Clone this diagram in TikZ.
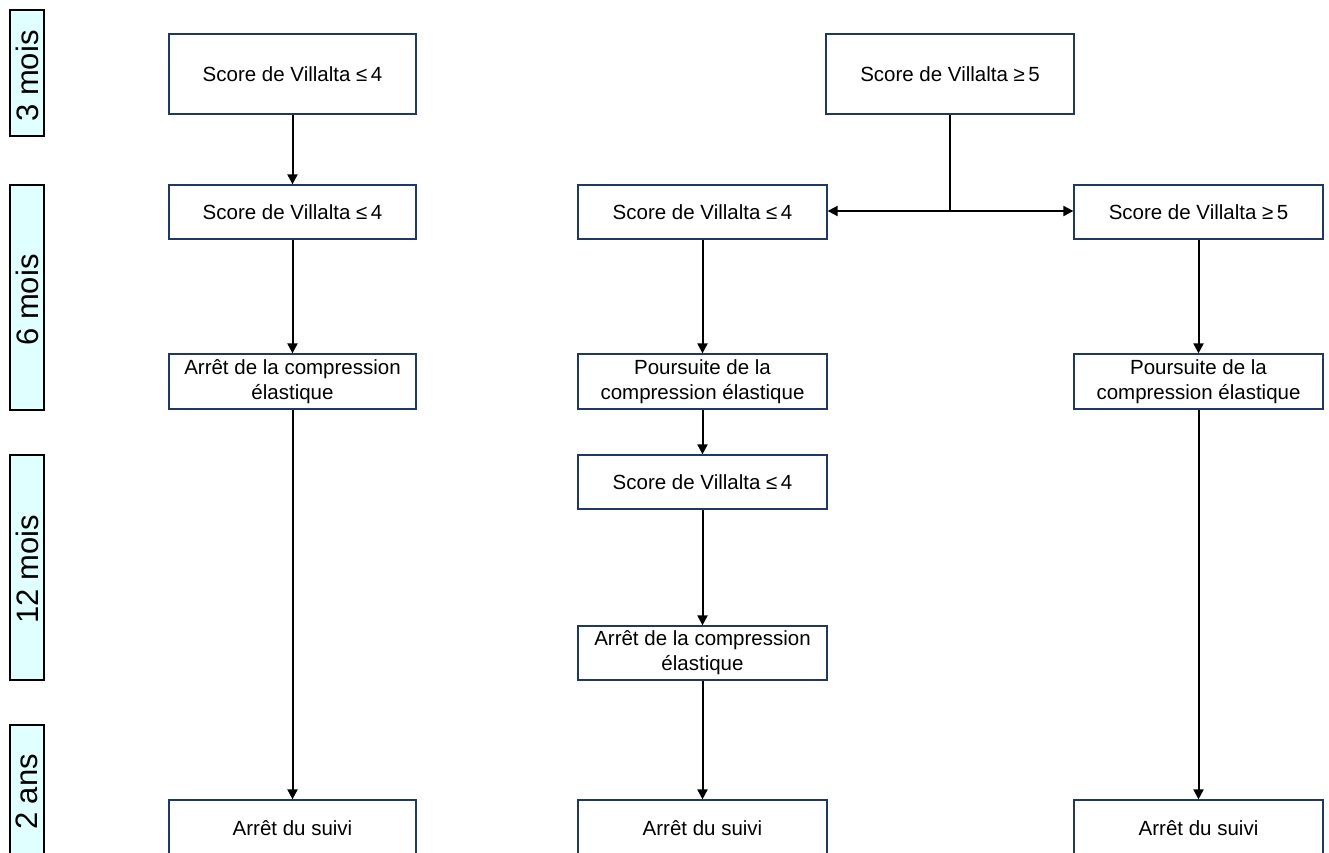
\documentclass[tikz,border=0pt]{standalone}
\usepackage{fontspec}
\setmainfont{Liberation Sans}
\usetikzlibrary{arrows.meta}
\definecolor{boxblue}{HTML}{1F3864}
\definecolor{timefill}{HTML}{E0FFFF}
\tikzset{
  flowbox/.style={draw=boxblue, line width=1.3pt, fill=white, rectangle, inner sep=2pt,
    align=center, font=\fontsize{20.5}{25}\selectfont, text=black},
  timebox/.style={draw=black, line width=1.5pt, fill=timefill, rectangle, inner sep=0pt},
  timelabel/.style={rotate=90, font=\fontsize{31}{34}\selectfont, text=black},
  flowarrow/.style={draw=black, line width=2pt, arrows={-Triangle[length=10pt,width=10pt]}},
  flowline/.style={draw=black, line width=2pt}
}
\begin{document}
\begin{tikzpicture}[x=1pt,y=-1pt]
\useasboundingbox (0,0) rectangle (1329,852);
\clip (0,0) rectangle (1329,852);
% time boxes
\node[timebox, minimum width=34pt, minimum height=126pt] (t1) at (27,73) {};
\node[timelabel] (t1l) at (27,76) {3 mois};
\node[timebox, minimum width=34pt, minimum height=225pt] (t2) at (27,297.5) {};
\node[timelabel] (t2l) at (27,300) {6 mois};
\node[timebox, minimum width=34pt, minimum height=225pt] (t3) at (27,567.5) {};
\node[timelabel] (t3l) at (27,569) {12 mois};
\node[timebox, minimum width=34pt, minimum height=150pt] (t4) at (27,800) {};
\node[timelabel] (t4l) at (27,792) {2 ans};
% column 1
\node[flowbox, minimum width=247pt, minimum height=80pt] (a1) at (292.5,74) {Score de Villalta ≤\,4};
\node[flowbox, minimum width=247pt, minimum height=54pt] (a2) at (292.5,212) {Score de Villalta ≤\,4};
\node[flowbox, minimum width=247pt, minimum height=55pt] (a3) at (292.5,381.5) {Arrêt de la compression\\élastique};
\node[flowbox, minimum width=247pt, minimum height=56pt] (a4) at (292.5,828) {Arrêt du suivi};
% top right
\node[flowbox, minimum width=248pt, minimum height=80pt] (b1) at (950,74) {Score de Villalta ≥\,5};
% column 2
\node[flowbox, minimum width=249pt, minimum height=54pt] (c2) at (702.5,212) {Score de Villalta ≤\,4};
\node[flowbox, minimum width=249pt, minimum height=55pt] (c3) at (702.5,381.5) {Poursuite de la\\compression élastique};
\node[flowbox, minimum width=249pt, minimum height=54pt] (c4) at (702.5,482) {Score de Villalta ≤\,4};
\node[flowbox, minimum width=249pt, minimum height=54pt] (c5) at (702.5,653) {Arrêt de la compression\\élastique};
\node[flowbox, minimum width=249pt, minimum height=56pt] (c6) at (702.5,828) {Arrêt du suivi};
% column 3
\node[flowbox, minimum width=249pt, minimum height=54pt] (d2) at (1198.5,212) {Score de Villalta ≥\,5};
\node[flowbox, minimum width=249pt, minimum height=55pt] (d3) at (1198.5,381.5) {Poursuite de la\\compression élastique};
\node[flowbox, minimum width=249pt, minimum height=56pt] (d4) at (1198.5,828) {Arrêt du suivi};
% connectors
\draw[flowarrow] (a1) -- (a2);
\draw[flowarrow] (a2) -- (a3);
\draw[flowarrow] (a3) -- (a4);
\coordinate (br) at (950,211);
\draw[flowline] (b1.south) -- (br);
\draw[flowarrow] (br) -- (c2.east |- br);
\draw[flowarrow] (br) -- (d2.west |- br);
\draw[flowarrow] (c2) -- (c3);
\draw[flowarrow] (c3) -- (c4);
\draw[flowarrow] (c4) -- (c5);
\draw[flowarrow] (c5) -- (c6);
\draw[flowarrow] (d2) -- (d3);
\draw[flowarrow] (d3) -- (d4);
\end{tikzpicture}
\end{document}
